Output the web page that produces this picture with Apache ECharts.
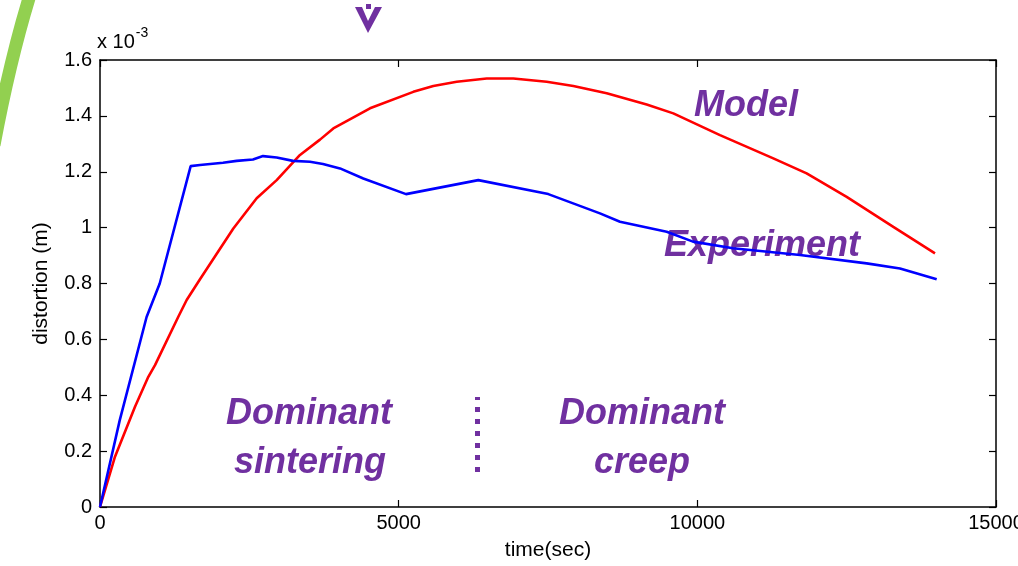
<!DOCTYPE html>
<html>
<head>
<meta charset="utf-8">
<script src="https://cdn.jsdelivr.net/npm/echarts@6/dist/echarts.min.js"></script>
<style>
html,body{margin:0;padding:0;background:#fff;}
#chart{width:1018px;height:566px;}
</style>
</head>
<body>
<div id="chart"></div>
<script>
// time (sec) values and distortion values (x 10^-3 m)
const expTime  = [0, 330, 780, 1000, 1518, 1674, 2059, 2288, 2561, 2729, 2958, 3231, 3516, 3733, 4018, 4408, 5123, 6333, 7505, 8370, 8705, 9487, 9927, 10597, 11719, 12835, 13393, 14007];
const expValue = [0, 0.31, 0.68, 0.80, 1.220, 1.224, 1.232, 1.239, 1.244, 1.256, 1.251, 1.239, 1.236, 1.228, 1.212, 1.176, 1.120, 1.170, 1.120, 1.051, 1.021, 0.985, 0.950, 0.926, 0.902, 0.872, 0.854, 0.815];
const modelTime  = [0, 251, 586, 809, 921, 1311, 1451, 1674, 2232, 2623, 2958, 3348, 3683, 3906, 4520, 5245, 5580, 5972, 6474, 6920, 7478, 7924, 8483, 9152, 9598, 10379, 11272, 11830, 12500, 13281, 13979];
const modelValue = [0, 0.18, 0.359, 0.466, 0.508, 0.681, 0.741, 0.815, 0.997, 1.105, 1.170, 1.260, 1.315, 1.355, 1.427, 1.486, 1.507, 1.522, 1.534, 1.534, 1.522, 1.507, 1.481, 1.441, 1.409, 1.331, 1.248, 1.194, 1.110, 1.003, 0.908];
// phase boundary (dotted marker)
const boundaryTime = 6310;
const boundaryRange = [0.125, 0.394];

const xTicks = {min: 0, max: 15000, interval: 5000};
const yTicks = {min: 0, max: 1.6, interval: 0.2};

const purple = '#7030A0';
const font = 'Liberation Sans, Arial, sans-serif';
const zip = (a, b) => a.map((v, i) => [v, b[i]]);

const chart = echarts.init(document.getElementById('chart'));
const axisLine = {show: true, onZero: false, lineStyle: {color: '#000', width: 1.5}};
const tick = {show: true, inside: true, length: 7, lineStyle: {color: '#000', width: 1.2}};
const labelFont = {color: '#000', fontSize: 20, fontFamily: font};
const nameFont = {color: '#000', fontSize: 21, fontFamily: font};
const bigText = {fontFamily: font, fontWeight: 'bold', fontStyle: 'italic', fontSize: 36, fill: purple};

chart.setOption({
  animation: false,
  backgroundColor: '#fff',
  grid: {left: 100, right: 22, top: 60, bottom: 59, containLabel: false, outerBoundsMode: 'none'},
  xAxis: [
    {type: 'value', position: 'bottom', min: xTicks.min, max: xTicks.max, interval: xTicks.interval,
     axisLine: axisLine, axisTick: tick, splitLine: {show: false},
     axisLabel: Object.assign({margin: 6, formatter: v => String(v)}, labelFont),
     name: 'time(sec)', nameLocation: 'middle', nameGap: 33, nameTextStyle: nameFont},
    {type: 'value', position: 'top', min: xTicks.min, max: xTicks.max, interval: xTicks.interval,
     axisLine: axisLine, axisTick: tick, splitLine: {show: false}, axisLabel: {show: false}}
  ],
  yAxis: [
    {type: 'value', position: 'left', min: yTicks.min, max: yTicks.max, interval: yTicks.interval,
     axisLine: axisLine, axisTick: tick, splitLine: {show: false},
     axisLabel: Object.assign({margin: 8, formatter: v => String(+v.toFixed(1))}, labelFont),
     name: 'distortion (m)', nameLocation: 'middle', nameGap: 48, nameTextStyle: nameFont},
    {type: 'value', position: 'right', min: yTicks.min, max: yTicks.max, interval: yTicks.interval,
     axisLine: axisLine, axisTick: tick, splitLine: {show: false}, axisLabel: {show: false}}
  ],
  series: [
    {type: 'line', name: 'Experiment', data: zip(expTime, expValue), showSymbol: false, symbol: 'none',
     lineStyle: {color: '#0000FF', width: 2.6}, z: 3},
    {type: 'line', name: 'Model', data: zip(modelTime, modelValue), showSymbol: false, symbol: 'none',
     lineStyle: {color: '#FF0000', width: 2.6}, z: 2,
     markLine: {silent: true, symbol: 'none', label: {show: false},
       lineStyle: {color: purple, width: 5, type: [5, 7]},
       data: [[{coord: [boundaryTime, boundaryRange[0]]}, {coord: [boundaryTime, boundaryRange[1]]}]]}}
  ],
  graphic: [
    {type: 'bezierCurve', shape: {x1: 30, y1: -5, cpx1: 10, cpy1: 60, x2: -6, y2: 145},
     style: {stroke: '#92D050', lineWidth: 13, fill: null}},
    {type: 'polygon', shape: {points: [[355, 7], [362, 7], [368, 21], [375, 7], [382, 7], [368, 33]]},
     style: {fill: purple}},
    {type: 'rect', shape: {x: 366, y: 4, width: 5, height: 5}, style: {fill: purple}},
    {type: 'text', left: 97, top: 26, style: {
      text: '{a|x 10}{b|-3}', rich: {
        a: {fontSize: 20, fontFamily: font, fill: '#000', verticalAlign: 'bottom'},
        b: {fontSize: 14, fontFamily: font, fill: '#000', verticalAlign: 'top', padding: [0, 0, 12, 1]}
      }}},
    {type: 'text', x: 746, y: 106, style: Object.assign({text: 'Model', textAlign: 'center', textVerticalAlign: 'middle'}, bigText)},
    {type: 'text', x: 762, y: 246, style: Object.assign({text: 'Experiment', textAlign: 'center', textVerticalAlign: 'middle'}, bigText)},
    {type: 'text', x: 309, y: 414, style: Object.assign({text: 'Dominant', textAlign: 'center', textVerticalAlign: 'middle'}, bigText)},
    {type: 'text', x: 310, y: 463, style: Object.assign({text: 'sintering', textAlign: 'center', textVerticalAlign: 'middle'}, bigText)},
    {type: 'text', x: 642, y: 414, style: Object.assign({text: 'Dominant', textAlign: 'center', textVerticalAlign: 'middle'}, bigText)},
    {type: 'text', x: 642, y: 463, style: Object.assign({text: 'creep', textAlign: 'center', textVerticalAlign: 'middle'}, bigText)}
  ]
});
</script>
</body>
</html>
